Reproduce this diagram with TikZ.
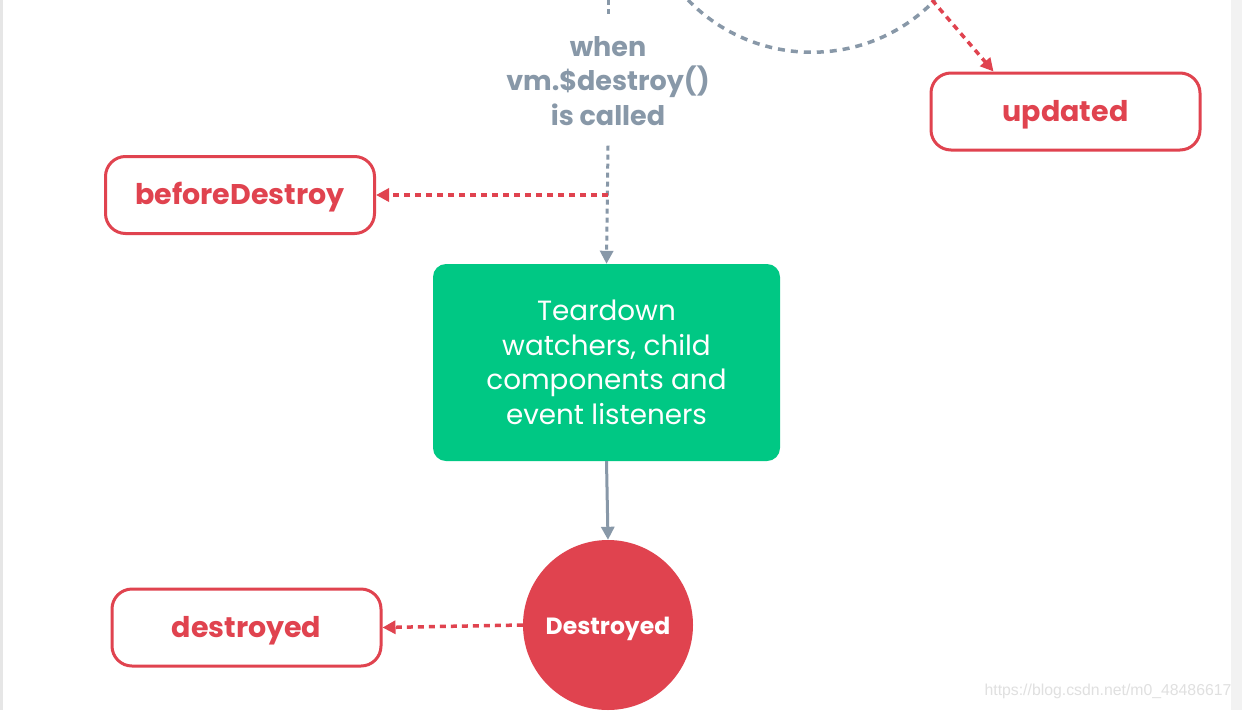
\documentclass[tikz,border=0pt]{standalone}
\usepackage{fontspec}
\setmainfont{Poppins}
\newfontfamily\wmfont{Liberation Sans}
\usetikzlibrary{arrows.meta,calc}
\definecolor{vred}{HTML}{E0434F}
\definecolor{vgray}{HTML}{8898A8}
\definecolor{vgreen}{HTML}{00C884}
\definecolor{wmgray}{HTML}{E0E0E0}
\definecolor{leftstrip}{HTML}{E6E6E6}
\definecolor{rightstrip}{HTML}{F2F2F2}
\begin{document}
\begin{tikzpicture}[x=1pt,y=-1pt,
  hook/.style={draw=vred, line width=3pt, rounded corners=20pt, minimum width=269pt,
    minimum height=77pt, fill=white, text=vred, inner sep=0pt,
    text height=23pt, text depth=4pt,
    font=\bfseries\fontsize{28.5}{32}\selectfont},
  stepbox/.style={fill=vgreen, rounded corners=13pt, minimum width=347pt, minimum height=197pt,
    text=white, align=center, inner sep=0pt, font=\fontsize{27.8}{34.5}\selectfont},
  endcirc/.style={circle, fill=vred, minimum size=170pt, inner sep=0pt, text=white,
    text height=20pt, text depth=2pt,
    font=\bfseries\fontsize{23.5}{26}\selectfont},
  cond/.style={text=vgray, align=center, inner sep=0pt, outer ysep=20pt,
    font=\bfseries\fontsize{27}{34.5}\selectfont},
  rdot/.style={draw=vred, line width=3.5pt, dash pattern=on 6pt off 5pt,
    -{Triangle[length=13pt,width=13pt]}},
  gdot/.style={draw=vgray, line width=3pt, dash pattern=on 5pt off 4pt},
  garc/.style={draw=vgray, line width=3.5pt, dash pattern=on 7pt off 6pt},
  gsolid/.style={draw=vgray, line width=3pt, -{Triangle[length=13pt,width=13pt]}},
  wmark/.style={text=wmgray, inner sep=0pt, font=\wmfont\fontsize{15.8}{18}\selectfont}
]
\useasboundingbox (0,0) rectangle (1242,710);
\fill[white] (0,0) rectangle (1242,710);
\fill[leftstrip] (0,0) rectangle (3,710);
\fill[rightstrip] (1231,0) rectangle (1242,710);

% nodes
\node[hook] (before) at (240,195) {beforeDestroy};
\node[hook] (updated) at (1065.5,111.5) {updated};
\node[hook] (destroyed) at (246.5,627.5) {destroyed};
\node[stepbox] (teardown) at (606.5,362.5) {Teardown\\watchers, child\\components and\\event listeners};
\node[endcirc] (dead) at (608,625) {Destroyed};
\node[cond] (when) at (608,81) {when\\vm.\$destroy()\\is called};
\node[wmark] (wm) at (1108,691) {https://blog.csdn.net/m0\_48486617};

% coordinates
\coordinate (top) at (608,0);
\coordinate (split) at (608,195);
\coordinate (arcA) at (688,0);
\coordinate (arcB) at (935,0);
\coordinate (redstart) at (932,0);

% connectors
\begin{scope}
\clip (0,0) rectangle (1242,710);
\draw[garc] (arcA) .. controls (755.6,69.5) and (867.7,69.8) .. (arcB);
\draw[rdot] (redstart) -- ([xshift=64pt]updated.north west);
\end{scope}
\draw[gdot] (top) -- (when.north);
\draw[gdot, -{Triangle[length=13pt,width=13pt]}] (when.south) -- (teardown.north);
\draw[rdot] (split) -- (before.east);
\draw[gsolid] (teardown.south) -- (dead.north);
\draw[rdot] (dead.west) -- (destroyed.east);
\end{tikzpicture}
\end{document}
